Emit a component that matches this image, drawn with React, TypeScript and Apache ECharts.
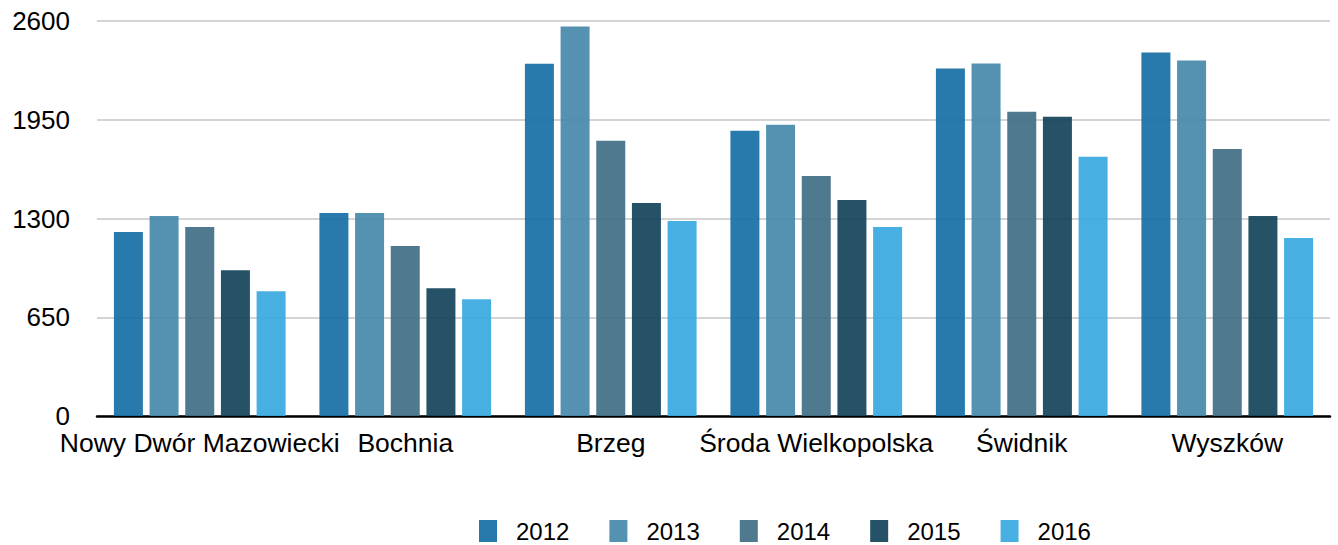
import React, { useEffect, useRef } from "react";
import * as echarts from "echarts";

const categories = [
  "Nowy Dwór Mazowiecki",
  "Bochnia",
  "Brzeg",
  "Środa Wielkopolska",
  "Świdnik",
  "Wyszków",
];
const years = ["2012", "2013", "2014", "2015", "2016"];
const values2012 = [1211, 1336, 2319, 1877, 2287, 2392];
const values2013 = [1316, 1336, 2563, 1917, 2320, 2340];
const values2014 = [1244, 1119, 1811, 1580, 2003, 1758];
const values2015 = [960, 841, 1402, 1422, 1970, 1316];
const values2016 = [821, 769, 1283, 1244, 1706, 1171];
const seriesValues = [values2012, values2013, values2014, values2015, values2016];
const colors = ["#156fa4", "#4689ab", "#3f6e86", "#14435b", "#37a8e0"];
const yTicks = [0, 650, 1300, 1950, 2600];

const FONT = "Liberation Sans";

export default function App() {
  const ref = useRef<HTMLDivElement>(null);
  useEffect(() => {
    document.body.style.margin = "0";
    document.body.style.overflow = "hidden";
    if (!ref.current) return;
    const chart = echarts.init(ref.current, null, { renderer: "svg" });
    chart.setOption({
      animation: false,
      grid: { left: 97, right: 8, top: 21, bottom: 129, containLabel: false },
      legend: {
        data: years,
        left: 479,
        top: 519,
        padding: 0,
        itemWidth: 18,
        itemHeight: 22,
        itemGap: 40,
        icon: "rect",
        textStyle: {
          fontFamily: FONT,
          fontSize: 24,
          lineHeight: 22,
          height: 22,
          color: "#000",
          padding: [0, 0, 0, 14],
        },
      },
      xAxis: {
        type: "category",
        data: categories,
        axisLine: { show: true, lineStyle: { color: "#000", width: 2.5 } },
        axisTick: { show: false },
        axisLabel: {
          interval: 0,
          margin: 13,
          fontFamily: FONT,
          fontSize: 26.5,
          color: "#000",
        },
      },
      yAxis: {
        type: "value",
        min: yTicks[0],
        max: yTicks[yTicks.length - 1],
        interval: 650,
        axisLine: { show: false },
        axisTick: { show: false },
        splitLine: { lineStyle: { color: "#c6c6c6", width: 1.5 } },
        axisLabel: {
          margin: 27,
          fontFamily: FONT,
          fontSize: 26,
          color: "#000",
          formatter: (v: number) => String(v),
        },
      },
      series: years.map((y, i) => ({
        name: y,
        type: "bar",
        data: seriesValues[i],
        barWidth: 29,
        barGap: "23%",
        itemStyle: { color: colors[i], opacity: 0.92 },
      })),
    });
    return () => chart.dispose();
  }, []);
  return (
    <div
      ref={ref}
      style={{ position: "absolute", left: 0, top: 0, width: 1338, height: 545 }}
    />
  );
}
